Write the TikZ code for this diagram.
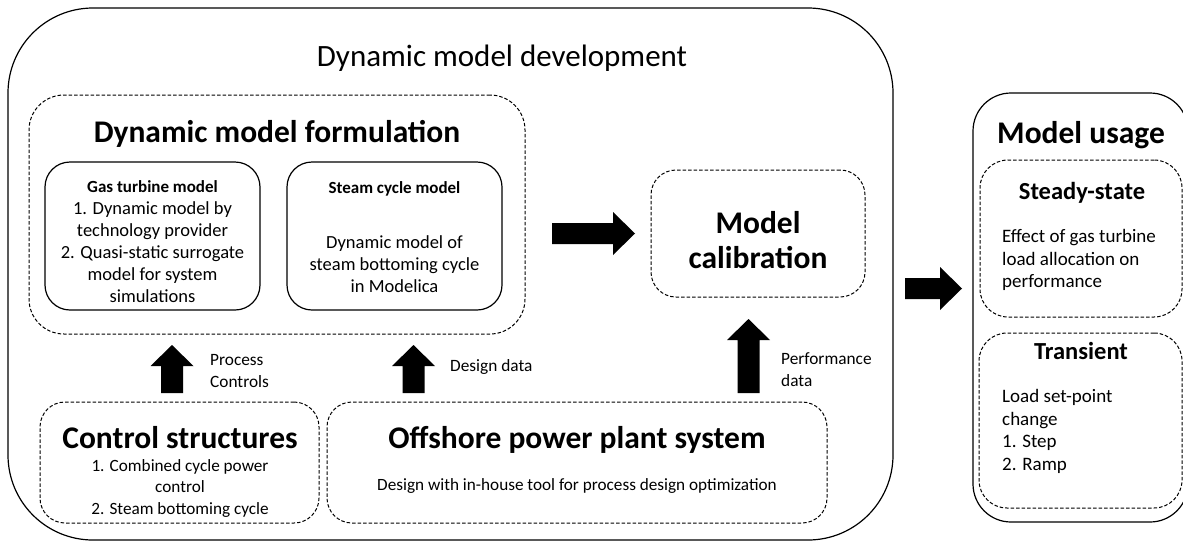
\documentclass[tikz,border=0pt]{standalone}
\usepackage{fontspec}
\setmainfont{Carlito}
\usetikzlibrary{calc}
\begin{document}
\begin{tikzpicture}[x=1pt,y=-1pt,
  solidbox/.style={draw, line width=1.2pt, inner sep=0pt, rounded corners=#1},
  dashbox/.style={draw, line width=1pt, dash pattern=on 3.5pt off 2pt, inner sep=0pt, rounded corners=#1},
  body/.style={font=\fontsize{18.5}{22}\selectfont, align=center, inner sep=0pt},
  sbody/.style={font=\fontsize{17.2}{21.5}\selectfont, align=center, inner sep=0pt},
  lbody/.style={font=\fontsize{19}{22.7}\selectfont, align=left, inner sep=0pt},
  head/.style={font=\fontsize{31.5}{35}\selectfont\bfseries, align=center, inner sep=0pt},
  subhead/.style={font=\fontsize{24.5}{28}\selectfont\bfseries, inner sep=0pt},
  lab/.style={font=\fontsize{17.3}{22}\selectfont, align=left, inner sep=0pt},
  uparrow/.pic={\fill (-11,0) -- (-11,-#1) -- (-21.5,-#1) -- (0,-#1-21) -- (21.5,-#1) -- (11,-#1) -- (11,0) -- cycle;},
  rightarrow/.pic={\fill (0,-10.5) -- (#1,-10.5) -- (#1,-21.5) -- (#1+22,0) -- (#1,21.5) -- (#1,10.5) -- (0,10.5) -- cycle;},
]
\useasboundingbox (0,0) rectangle (1183,547);

% development frame
\node[solidbox=85pt, minimum width=885pt, minimum height=532pt] (dev) at (450.5,274) {};
\node[font=\fontsize{31}{36}\selectfont, anchor=base, inner sep=0pt] (devtitle) at (502,66) {Dynamic model development};

% formulation group
\node[dashbox=35pt, minimum width=496pt, minimum height=239pt] (dmf) at (277,214.5) {};
\node[head, anchor=base] (dmftitle) at (277,142) {Dynamic model formulation};

\node[solidbox=25pt, minimum width=215pt, minimum height=148pt] (gt) at (152.5,236) {};
\node[body] (gttext) at (152.5,242) {\fontsize{17}{22}\selectfont\textbf{Gas turbine model}\\1. Dynamic model by\\technology provider\\2. Quasi-static surrogate\\model for system\\simulations};

\node[solidbox=25pt, minimum width=215pt, minimum height=148pt] (sc) at (394.5,236) {};
\node[body, anchor=base, font=\fontsize{17}{22}\selectfont\bfseries] (sctitle) at (394.5,193) {Steam cycle model};
\node[body] (sctext) at (394.5,264) {Dynamic model of\\steam bottoming cycle\\in Modelica};

% calibration
\node[dashbox=25pt, minimum width=214pt, minimum height=127pt] (cal) at (758,233.5) {};
\node[head] (caltext) at (758,240) {Model\\calibration};

% inputs
\node[dashbox=25pt, minimum width=279pt, minimum height=121pt] (ctrl) at (179.5,462.5) {};
\node[head, anchor=base] (ctrltitle) at (180,448) {Control structures};
\node[sbody] (ctrltext) at (180,488) {1. Combined cycle power\\control\\2. Steam bottoming cycle};

\node[dashbox=25pt, minimum width=500pt, minimum height=121pt] (off) at (577,462.5) {};
\node[head, anchor=base] (offtitle) at (577,448) {Offshore power plant system};
\node[sbody] (offtext) at (577,486) {Design with in-house tool for process design optimization};

% usage
\node[solidbox=38pt, minimum width=215pt, minimum height=429pt] (use) at (1080.5,307.5) {};
\node[head, anchor=base] (usetitle) at (1081,143) {Model usage};
\node[dashbox=28pt, minimum width=202pt, minimum height=157pt] (ss) at (1081,238.5) {};
\node[subhead, anchor=base] (sstitle) at (1082,199) {Steady-state};
\node[lbody, anchor=north west] (sstext) at (1002,229) {Effect of gas turbine\\load allocation on\\performance};
\node[dashbox=28pt, minimum width=203pt, minimum height=175pt] (tr) at (1080.5,420.5) {};
\node[subhead, anchor=base] (trtitle) at (1081,359) {Transient};
\node[lbody, anchor=north west] (trtext) at (1002,389) {Load set-point\\change\\1. Step\\2. Ramp};

% block arrows
\coordinate (a1) at (552,233.5);
\coordinate (a2) at (905,288.5);
\coordinate (u1) at (172,393);
\coordinate (u2) at (413.5,393);
\coordinate (u3) at (748.5,393);
\pic at (a1) {rightarrow=61};
\pic at (a2) {rightarrow=35};
\pic at (u1) {uparrow=27};
\pic at (u2) {uparrow=27};
\pic at (u3) {uparrow=53};

\node[lab, anchor=west] (ulab1) at (210,371) {Process\\Controls};
\node[lab, anchor=west] (ulab2) at (450,367) {Design data};
\node[lab, anchor=west] (ulab3) at (781,370) {Performance\\data};
\end{tikzpicture}
\end{document}
